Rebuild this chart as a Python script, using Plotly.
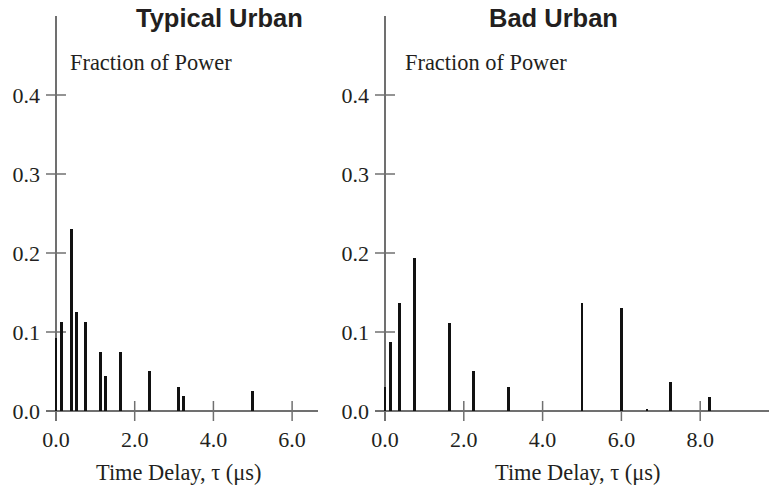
import plotly.graph_objects as go

# Typical Urban power delay profile
tu_delay = [0.0, 0.13, 0.39, 0.51, 0.76, 1.13, 1.25, 1.63, 2.38, 3.12, 3.24, 4.99]
tu_power = [0.093, 0.113, 0.230, 0.125, 0.113, 0.075, 0.044, 0.075, 0.050, 0.031, 0.019, 0.025]

# Bad Urban power delay profile
bu_delay = [0.0, 0.13, 0.38, 0.75, 1.63, 2.25, 3.13, 5.0, 6.0, 6.65, 7.25, 8.24]
bu_power = [0.031, 0.087, 0.137, 0.194, 0.112, 0.050, 0.031, 0.137, 0.131, 0.002, 0.037, 0.018]

y_ticks = [0.0, 0.1, 0.2, 0.3, 0.4]
tu_x_ticks = [0.0, 2.0, 4.0, 6.0]
bu_x_ticks = [0.0, 2.0, 4.0, 6.0, 8.0]

W, H = 769, 492
SERIF = "Liberation Serif, Times New Roman, serif"
SANS = "Liberation Sans, Arial, sans-serif"
TXT = "#231f20"
AX = "#707070"

fig = go.Figure()
fig.add_trace(go.Bar(x=tu_delay, y=tu_power, width=0.075, marker=dict(color="#111", line=dict(width=0)),
                     xaxis="x", yaxis="y"))
fig.add_trace(go.Bar(x=bu_delay, y=bu_power, width=0.075, marker=dict(color="#111", line=dict(width=0)),
                     xaxis="x2", yaxis="y2"))

px_per_x = 39.4
px_per_y = 789.5
tick_half = 10

y_lo = -tick_half / px_per_y
axis_common = dict(showgrid=False, showline=False, ticks="", tickformat=".1f", automargin=False,
                   layer="below traces", zeroline=True, zerolinecolor=AX, zerolinewidth=1.5,
                   tickfont=dict(family=SERIF, size=22, color=TXT), fixedrange=True)

fig.update_layout(
    width=W, height=H,
    margin=dict(l=0, r=0, t=0, b=0),
    plot_bgcolor="white", paper_bgcolor="white",
    showlegend=False, bargap=0,
    xaxis=dict(domain=[46 / W, 317.7 / W], range=[-tick_half / px_per_x, 6.65],
               tickvals=tu_x_ticks, ticklabelstandoff=3, anchor="y", **axis_common),
    yaxis=dict(domain=[1 - 421 / H, 1 - 16 / H], range=[y_lo, 0.5],
               tickvals=y_ticks, ticklabelstandoff=5, anchor="x", **axis_common),
    xaxis2=dict(domain=[375 / W, 1.0], range=[-tick_half / px_per_x, (769 - 385) / px_per_x],
                tickvals=bu_x_ticks, ticklabelstandoff=3, anchor="y2", **axis_common),
    yaxis2=dict(domain=[1 - 421 / H, 1 - 16 / H], range=[y_lo, 0.5],
                tickvals=y_ticks, ticklabelstandoff=5, anchor="x2", **axis_common),
)

# crossing tick marks
for xa, ya, xt in [("x", "y", tu_x_ticks), ("x2", "y2", bu_x_ticks)]:
    dx = tick_half / px_per_x
    dy = tick_half / px_per_y
    for v in y_ticks[1:]:
        fig.add_shape(type="line", xref=xa, yref=ya, x0=-dx, x1=dx, y0=v, y1=v,
                      line=dict(color=AX, width=1.5), layer="below")
    for v in xt[1:]:
        fig.add_shape(type="line", xref=xa, yref=ya, x0=v, x1=v, y0=-dy, y1=dy,
                      line=dict(color=AX, width=1.5), layer="below")

def ann(text, xpx, ypx, font, xanchor="center"):
    fig.add_annotation(text=text, xref="paper", yref="paper", x=xpx / W, y=1 - ypx / H,
                       xanchor=xanchor, yanchor="middle", showarrow=False, font=font)

title_font = dict(family=SANS, size=25.5, color=TXT, weight="bold")
label_font = dict(family=SERIF, size=22.4, color=TXT)

ann("<b>Typical Urban</b>", 219, 18.2, title_font)
ann("<b>Bad Urban</b>", 553.5, 18.2, title_font)
ann("Fraction of Power", 68, 62.6, label_font, "left")
ann("Fraction of Power", 403, 62.6, label_font, "left")
ann("Time Delay, τ (μs)", 178.5, 472.6, label_font)
ann("Time Delay, τ (μs)", 578, 472.6, label_font)

# the page body has a default 8px margin; drop it so the figure sits at the corner
fig.write_html("out.html", config={"displayModeBar": False},
               post_script="document.body.style.margin='0';")
